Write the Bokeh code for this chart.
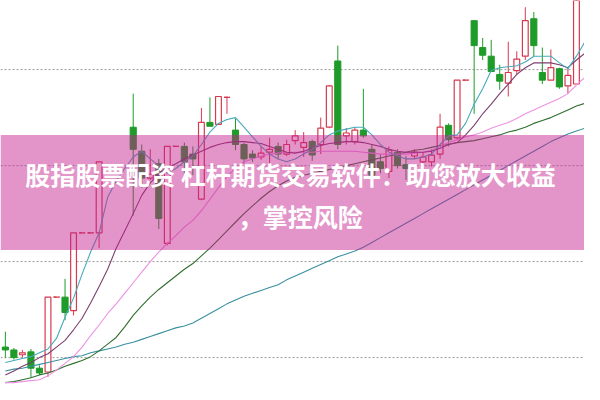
import numpy as np
from bokeh.plotting import figure
from bokeh.models import Range1d, BoxAnnotation, Span, Label
from bokeh.embed import file_html
from bokeh.resources import INLINE

nan = float("nan")

# ---- candle data (price) ----
opens = [6.11, 6.08, 6.03, 6.06, 5.89, 5.85, 6.63, 6.63, 6.49, 7.30, 7.30, 7.30, nan, nan, nan,
         8.40, 8.15, 7.87, 8.02, 7.19, 8.20, 8.20, 8.12, 7.65, 8.45, 8.43, 8.71, 8.37, 8.22, 8.12,
         8.09, 8.14, 8.20, 8.12, 8.26, 8.19, 8.25, 8.22, 8.40, 9.09, 8.31, 8.25, 8.37, 8.17, 8.04,
         7.94, 8.14, 8.01, 8.10, 8.04, 8.04, 8.12, 8.42, 8.29, 8.89, 9.51, 9.23, 9.14, 8.95, 8.86,
         8.99, 9.14, 9.53, 8.97, 8.89, 9.01, 8.83, 8.85]
highs = [6.27, 6.10, 6.08, 6.09, 5.92, 6.63, 6.63, 6.82, 7.30, 7.30, 7.30, 8.04, nan, nan, nan,
         8.75, 8.22, 8.17, 8.07, 8.20, 8.20, 8.24, 8.20, 8.60, 8.71, 8.72, 8.72, 8.49, 8.24, 8.16,
         8.20, 8.29, 8.24, 8.27, 8.37, 8.35, 8.27, 8.50, 8.84, 9.25, 8.39, 8.40, 8.80, 8.22, 8.12,
         8.20, 8.17, 8.10, 8.17, 8.14, 8.17, 8.54, 8.44, 8.89, 8.89, 9.51, 9.33, 9.31, 9.05, 9.29,
         9.19, 9.65, 9.60, 9.23, 9.21, 9.02, 9.02, 9.85]
lows = [6.00, 5.98, 6.00, 5.79, 5.82, 5.80, 6.63, 6.39, 6.44, 7.30, 7.30, 7.14, nan, nan, nan,
        7.48, 7.77, 7.85, 7.34, 7.17, 8.20, 7.92, 7.90, 7.64, 8.41, 8.43, 8.54, 8.16, 8.02, 8.04,
        8.06, 8.02, 8.07, 8.10, 8.22, 8.09, 8.05, 8.12, 8.39, 8.17, 8.22, 8.22, 8.29, 7.86, 7.92,
        7.87, 7.97, 7.85, 8.07, 8.00, 7.99, 8.07, 8.20, 8.27, 8.89, 8.54, 9.10, 8.98, 8.79, 8.72,
        8.95, 9.10, 9.14, 8.85, 8.89, 8.80, 8.75, 8.85]
closes = [6.08, 6.00, 6.05, 5.89, 5.84, 6.63, 6.63, 6.47, 7.30, 7.30, 7.30, 8.04, nan, nan, nan,
          8.17, 7.87, 7.91, 7.45, 8.20, 8.20, 8.04, 8.07, 8.45, 8.41, 8.72, 8.71, 8.22, 8.07, 8.08,
          8.13, 8.17, 8.12, 8.22, 8.31, 8.24, 8.11, 8.39, 8.83, 8.22, 8.34, 8.37, 8.31, 7.90, 7.97,
          8.16, 8.00, 7.97, 8.14, 8.09, 8.11, 8.40, 8.27, 8.89, 8.89, 9.25, 9.15, 8.98, 8.88, 8.97,
          9.11, 9.51, 9.25, 8.89, 9.02, 8.82, 8.94, 9.77]

# ---- moving averages ----
ma5 = [5.95, 5.97, 5.99, 6.01, 6.05, 6.09, 6.20, 6.42, 6.62, 6.87, 7.10, 7.30, 7.67, 7.84, 7.97,
       8.09, 8.15, 8.07, 8.00, 7.92, 7.97, 8.04, 8.10, 8.22, 8.35, 8.44, 8.48, 8.50, 8.40, 8.30,
       8.20, 8.12, 8.07, 8.04, 8.07, 8.12, 8.17, 8.24, 8.32, 8.36, 8.38, 8.40, 8.40, 8.32, 8.22,
       8.14, 8.10, 8.07, 8.07, 8.09, 8.12, 8.22, 8.31, 8.32, 8.44, 8.64, 8.80, 8.99, 9.02, 9.03,
       9.04, 9.08, 9.14, 9.14, 9.14, 9.07, 9.01, 9.14, 9.29]
ma10 = [5.82, 5.86, 5.91, 5.95, 6.00, 6.04, 6.11, 6.18, 6.29, 6.41, 6.57, 6.74, 6.92, 7.14, 7.32,
        7.50, 7.69, 7.82, 7.91, 7.98, 8.02, 8.07, 8.11, 8.15, 8.19, 8.22, 8.24, 8.25, 8.25, 8.24,
        8.23, 8.20, 8.17, 8.14, 8.13, 8.15, 8.18, 8.21, 8.23, 8.24, 8.25, 8.25, 8.24, 8.22, 8.20,
        8.17, 8.15, 8.14, 8.14, 8.14, 8.15, 8.18, 8.22, 8.24, 8.32, 8.42, 8.54, 8.64, 8.75, 8.85,
        8.95, 9.02, 9.07, 9.07, 9.07, 9.05, 9.02, 9.10, 9.17]
ma20 = [5.74, 5.74, 5.75, 5.76, 5.77, 5.81, 5.87, 5.94, 6.01, 6.11, 6.23, 6.34, 6.46, 6.56, 6.67,
        6.78, 6.89, 7.00, 7.10, 7.19, 7.27, 7.36, 7.43, 7.53, 7.65, 7.77, 7.89, 7.97, 8.04, 8.07,
        8.10, 8.12, 8.13, 8.14, 8.14, 8.14, 8.14, 8.15, 8.15, 8.15, 8.15, 8.15, 8.14, 8.13, 8.12,
        8.12, 8.12, 8.12, 8.13, 8.14, 8.16, 8.20, 8.24, 8.27, 8.30, 8.32, 8.35, 8.39, 8.42, 8.45,
        8.49, 8.54, 8.58, 8.62, 8.66, 8.70, 8.75, 8.84, 8.92]
ma30 = [5.74, 5.75, 5.77, 5.79, 5.82, 5.84, 5.87, 5.91, 5.94, 5.97, 6.01, 6.07, 6.14, 6.21, 6.32,
        6.44, 6.54, 6.63, 6.71, 6.78, 6.85, 6.92, 6.98, 7.06, 7.14, 7.23, 7.32, 7.41, 7.50, 7.58,
        7.66, 7.73, 7.79, 7.84, 7.88, 7.90, 7.92, 7.94, 7.96, 7.98, 8.00, 8.02, 8.04, 8.06, 8.08,
        8.10, 8.12, 8.14, 8.16, 8.17, 8.19, 8.21, 8.22, 8.24, 8.25, 8.26, 8.28, 8.30, 8.32, 8.35,
        8.37, 8.40, 8.44, 8.47, 8.50, 8.54, 8.58, 8.62, 8.65]
ma60 = [5.86, 5.88, 5.89, 5.91, 5.93, 5.95, 5.97, 5.99, 6.01, 6.02, 6.05, 6.07, 6.09, 6.11, 6.14,
        6.16, 6.19, 6.22, 6.25, 6.28, 6.31, 6.33, 6.36, 6.41, 6.46, 6.51, 6.56, 6.60, 6.64, 6.67,
        6.70, 6.73, 6.76, 6.81, 6.85, 6.89, 6.93, 6.97, 7.01, 7.05, 7.08, 7.11, 7.15, 7.20, 7.25,
        7.30, 7.35, 7.40, 7.45, 7.50, 7.55, 7.60, 7.65, 7.70, 7.75, 7.80, 7.85, 7.90, 7.95, 8.00,
        8.05, 8.10, 8.15, 8.20, 8.25, 8.29, 8.33, 8.36, 8.39]

grid_levels = [6.0, 7.0, 8.0, 9.0]
title_line1 = "股指股票配资 杠杆期货交易软件：助您放大收益"
title_line2 = "，掌控风险"

# ---- styles ----
RED = "#D63A4F"
GREEN = "#1E9B28"

o = np.array(opens, float)
h = np.array(highs, float)
l = np.array(lows, float)
c = np.array(closes, float)
idx = np.arange(len(o))
valid = ~np.isnan(o)
up = valid & (c >= o)
down = valid & (c < o)
flat = valid & (c == o)

p = figure(width=584, height=384, x_range=Range1d(-0.571, 67.945), y_range=Range1d(5.72, 9.72),
           x_axis_type=None, y_axis_type=None, output_backend="svg", toolbar_location=None,
           min_border=0)
p.grid.visible = False
p.outline_line_color = None
p.background_fill_color = "white"
p.border_fill_color = "white"

for lvl in grid_levels:
    p.add_layout(Span(location=lvl, dimension="width", line_color="#9a9a9a",
                      line_dash="2 2", line_width=1, level="underlay"))

# wicks
p.segment(x0=idx[up], y0=l[up], x1=idx[up], y1=h[up], line_color=RED, line_width=1)
p.segment(x0=idx[down], y0=l[down], x1=idx[down], y1=h[down], line_color=GREEN, line_width=1)
# bodies
p.vbar(x=idx[up], width=0.68, top=c[up], bottom=o[up], fill_color="white",
       line_color=RED, line_width=1.2)
p.vbar(x=idx[down], width=0.72, top=o[down], bottom=c[down], fill_color=GREEN,
       line_color=GREEN, line_width=1)
p.segment(x0=idx[flat] - 0.36, y0=c[flat], x1=idx[flat] + 0.36, y1=c[flat],
          line_color=RED, line_width=1.2, line_dash="3 2")

# moving averages
ma_x = np.arange(len(ma5))
p.line(ma_x, ma60, line_color="#3A8FA0", line_width=1.1)
p.line(ma_x, ma30, line_color="#2F6F30", line_width=1.1)
p.line(ma_x, ma20, line_color="#EC92E2", line_width=1.1)
p.line(ma_x, ma10, line_color="#7B3F6E", line_width=1.1)
p.line(ma_x, ma5, line_color="#45AABA", line_width=1.1)

# pink banner
p.add_layout(BoxAnnotation(bottom=7.12, top=8.32, fill_color="#C41F8E", fill_alpha=0.48,
                           line_color=None))
p.add_layout(Label(x=33.45, y=7.91, text=title_line1, text_align="center", text_baseline="middle",
                   text_color="white", text_font="Noto Sans CJK SC", text_font_style="bold",
                   text_font_size="25px"))
p.add_layout(Label(x=34.6, y=7.48, text=title_line2, text_align="center", text_baseline="middle",
                   text_color="white", text_font="Noto Sans CJK SC", text_font_style="bold",
                   text_font_size="25px"))

open("out.html", "w").write(file_html(p, INLINE))
